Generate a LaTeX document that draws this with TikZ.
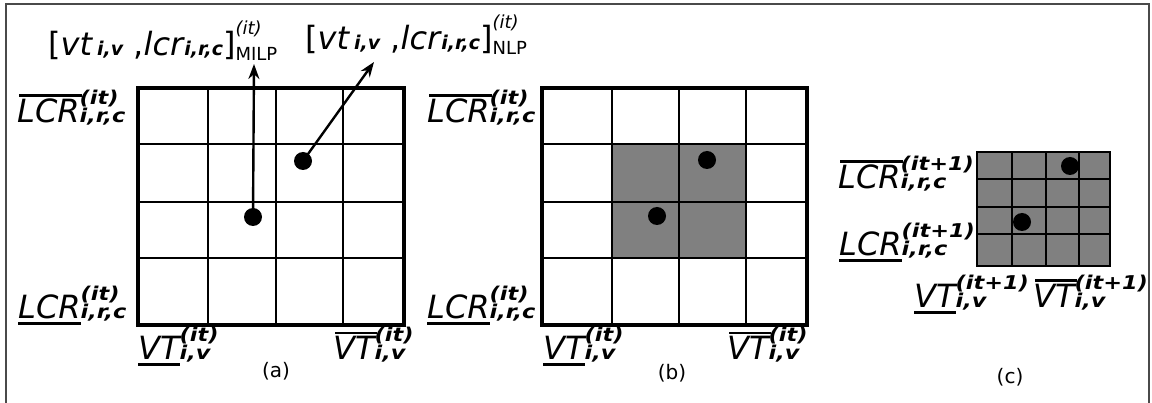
\documentclass[tikz,border=0pt]{standalone}
\usepackage{fontspec}
\setmainfont{DejaVu Sans}
\newfontfamily\scr{DejaVu Sans}[FakeStretch=1.18]
\usetikzlibrary{arrows.meta}
\newlength\ssw
% #1 size, #2 raise of sup, #3 lowering of sub, #4 sup, #5 sub
\newcommand{\SupSubG}[5]{{\fontsize{#1}{#1}\selectfont\setbox1\hbox{#4}\setbox2\hbox{#5}%
  \ssw=\wd1 \ifdim\wd2>\ssw \ssw=\wd2\fi
  \hbox to\ssw{\rlap{\raise#2\copy1}\lower#3\copy2\hfil}}}
\newcommand{\OL}[1]{\setbox0\hbox{#1}\rlap{\kern2pt\rule[26pt]{\wd0}{2.5pt}}\box0}
\newcommand{\UL}[1]{\setbox0\hbox{#1}\rlap{\rule[-6pt]{\wd0}{2.5pt}}\box0}
\newcommand{\Lab}[4]{#1{\itshape #2}\SupSubG{19pt}{18.5pt}{0pt}{\scr\bfseries\itshape #3}{\scr\bfseries\itshape #4}}
\newcommand{\BIs}[1]{{\fontsize{19pt}{19pt}\selectfont\bfseries\itshape #1}}
\newcommand{\TopLab}[1]{[{\itshape vt}\hspace{5pt}\BIs{i,v} ,{\itshape lcr}\hspace{1pt}\BIs{i,r,c}]\SupSubG{18pt}{21pt}{5pt}{\itshape (it)}{#1}}
\definecolor{cellgray}{HTML}{808080}
\definecolor{framegray}{HTML}{4A4A4A}
\tikzset{
  lab/.style={inner sep=0pt, anchor=base west, font=\fontsize{32pt}{36pt}\selectfont},
  captext/.style={inner sep=0pt, font=\fontsize{20pt}{24pt}\selectfont},
  dot/.style={circle, fill=black, minimum size=18pt, inner sep=0pt},
  arr/.style={line width=2.4pt, -{Stealth[length=15pt,width=11pt]}},
  inner/.style={line width=2.2pt},
  outer/.style={line width=4.2pt},
  frame/.style={line width=2.5pt, draw=framegray}
}
\begin{document}
\begin{tikzpicture}[x=1pt, y=-1pt]
\useasboundingbox (0,0) rectangle (1152,403);
% outer frame
\draw[frame] (6,410) -- (6,4) -- (1149,4) -- (1149,410);

% ---------- panel (a) ----------
\foreach \x in {208,276,343} \draw[inner] (\x,88) -- (\x,325);
\foreach \y in {144,202,258} \draw[inner] (138,\y) -- (404,\y);
\draw[outer] (138,88) rectangle (404,325);
\node[dot] (da1) at (253,217) {};
\node[dot] (da2) at (303,161) {};
\node[lab] (milp) at (48,56) {\TopLab{MILP}};
\node[lab] (nlp) at (305,50) {\TopLab{NLP}};
\coordinate (tm) at (254,64);
\coordinate (tn) at (374,62);
\draw[arr] (da1.center) -- (tm);
\draw[arr] (da2.center) -- (tn);
\node[lab] (alo) at (17,123) {\Lab{\OL}{LCR}{(it)}{i,r,c}};
\node[lab] (alu) at (18,319) {\Lab{\UL}{LCR}{(it)}{i,r,c}};
\node[lab] (avu) at (138,360) {\Lab{\UL}{VT}{(it)}{i,v}};
\node[lab] (avo) at (333,360) {\Lab{\OL}{VT}{(it)}{i,v}};
\node[captext] (capa) at (276,371) {(a)};

% ---------- panel (b) ----------
\fill[cellgray] (612,144) rectangle (746,258);
\foreach \x in {612,679,746} \draw[inner] (\x,88) -- (\x,325);
\foreach \y in {144,202,258} \draw[inner] (542,\y) -- (807,\y);
\draw[outer] (542,88) rectangle (807,325);
\node[dot] (db1) at (657,216) {};
\node[dot] (db2) at (707,160) {};
\node[lab] (blo) at (427,123) {\Lab{\OL}{LCR}{(it)}{i,r,c}};
\node[lab] (blu) at (427,319) {\Lab{\UL}{LCR}{(it)}{i,r,c}};
\node[lab] (bvu) at (543,360) {\Lab{\UL}{VT}{(it)}{i,v}};
\node[lab] (bvo) at (727,360) {\Lab{\OL}{VT}{(it)}{i,v}};
\node[captext] (capb) at (672,373) {(b)};

% ---------- panel (c) ----------
\fill[cellgray] (977,152) rectangle (1110,266);
\foreach \x in {1012,1046,1079} \draw[inner] (\x,152) -- (\x,266);
\foreach \y in {179,207,234} \draw[inner] (977,\y) -- (1110,\y);
\draw[line width=2.5pt] (977,152) rectangle (1110,266);
\node[dot] (dc1) at (1070,166) {};
\node[dot] (dc2) at (1022,222) {};
\node[lab] (clo) at (838,189) {\Lab{\OL}{LCR}{(it+1)}{i,r,c}};
\node[lab] (clu) at (839,256) {\Lab{\UL}{LCR}{(it+1)}{i,r,c}};
\node[lab] (cvu) at (914,308) {\Lab{\UL}{VT}{(it+1)}{i,v}};
\node[lab] (cvo) at (1033,308) {\Lab{\OL}{VT}{(it+1)}{i,v}};
\node[captext] (capc) at (1010,377) {(c)};
\end{tikzpicture}
\end{document}
